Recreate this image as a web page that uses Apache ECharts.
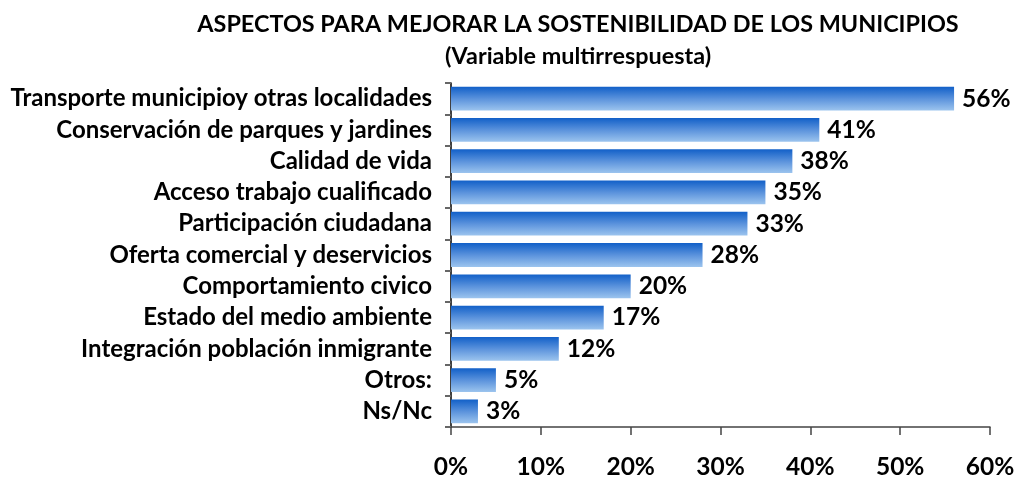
<!DOCTYPE html>
<html>
<head>
<meta charset="utf-8">
<script src="https://cdn.jsdelivr.net/npm/echarts@6/dist/echarts.min.js"></script>
<style>
  html, body { margin: 0; padding: 0; background: #fff; }
  #main { width: 1019px; height: 480px; }
</style>
</head>
<body>
<div id="main"></div>
<script>
  var categories = [
    'Transporte municipioy otras localidades',
    'Conservación de parques y jardines',
    'Calidad de vida',
    'Acceso trabajo cualificado',
    'Participación ciudadana',
    'Oferta comercial y deservicios',
    'Comportamiento civico',
    'Estado del medio ambiente',
    'Integración población inmigrante',
    'Otros:',
    'Ns/Nc'
  ];
  var values = [56, 41, 38, 35, 33, 28, 20, 17, 12, 5, 3];
  var xTicks = [0, 10, 20, 30, 40, 50, 60];

  var dom = document.getElementById('main');
  var myChart = echarts.init(dom, null, { renderer: 'canvas' });
  var font = 'Lato, "Open Sans", sans-serif';

  var option = {
    animation: false,
    title: {
      text: 'ASPECTOS PARA MEJORAR LA SOSTENIBILIDAD DE LOS MUNICIPIOS\n(Variable multirrespuesta)',
      left: 573,
      textAlign: 'center',
      top: 3,
      textStyle: {
        fontFamily: font,
        fontWeight: 'bold',
        fontSize: 23.4,
        lineHeight: 32,
        color: '#000'
      }
    },
    grid: {
      left: 451,
      right: 29,
      top: 83,
      bottom: 52
    },
    xAxis: {
      type: 'value',
      min: xTicks[0],
      max: xTicks[xTicks.length - 1],
      interval: 10,
      splitLine: { show: false },
      axisLine: { show: true, lineStyle: { color: '#444', width: 1.5 } },
      axisTick: { show: true, length: 8, lineStyle: { color: '#444', width: 1.5 } },
      axisLabel: {
        margin: 28,
        formatter: '{value}%',
        fontFamily: font,
        fontWeight: 'bold',
        fontSize: 24.5,
        color: '#000'
      }
    },
    yAxis: {
      type: 'category',
      inverse: true,
      data: categories,
      axisLine: { show: true, lineStyle: { color: '#000', width: 1.5 } },
      axisTick: { show: true, length: 6, lineStyle: { color: '#666', width: 2 } },
      axisLabel: {
        margin: 19,
        fontFamily: font,
        fontWeight: 'bold',
        fontSize: 24,
        color: '#000'
      }
    },
    series: [
      {
        type: 'bar',
        data: values,
        barCategoryGap: '24%',
        itemStyle: {
          color: new echarts.graphic.LinearGradient(0, 0, 0, 1, [
            { offset: 0, color: '#1260c8' },
            { offset: 0.5, color: '#5a92dc' },
            { offset: 1, color: '#9cc4ee' }
          ])
        },
        label: {
          show: true,
          position: 'right',
          distance: 8,
          formatter: '{c}%',
          fontFamily: font,
          fontWeight: 'bold',
          fontSize: 24.5,
          color: '#000'
        }
      }
    ]
  };
  myChart.setOption(option);
</script>
</body>
</html>
